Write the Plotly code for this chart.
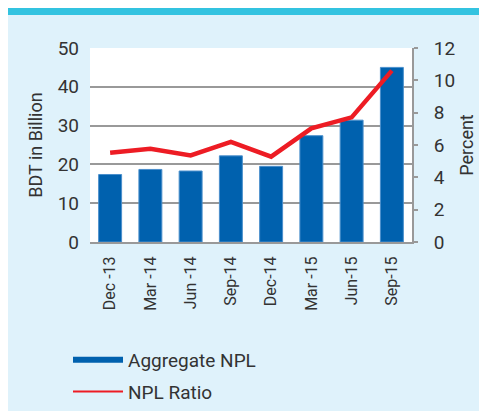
import plotly.graph_objects as go

categories = ["Dec-13", "Mar-14", "Jun-14", "Sep-14", "Dec-14", "Mar-15", "Jun-15", "Sep-15"]
tick_labels = ["Dec -13", "Mar -14", "Jun -14", "Sep-14", "Dec-14", "Mar -15", "Jun-15", "Sep-15"]
aggregate_npl = [17.4, 18.7, 18.3, 22.2, 19.5, 27.4, 31.4, 45.0]
npl_ratio = [5.52, 5.77, 5.36, 6.2, 5.28, 7.03, 7.71, 10.6]

OFF = 8  # page body margin
W, H = 487 - OFF, 411 - OFF
L, R, T, B = 90 - OFF, 487 - 412, 48 - OFF, 411 - 242
pw, ph = W - L - R, H - T - B

def px_x(p):
    return (p - OFF - L) / pw

def px_y(p):
    return (H - B - (p - OFF)) / ph

font = "Roboto, Arial, sans-serif"
txt = "#333333"
bg = "#dff2fb"

fig = go.Figure()
fig.add_trace(go.Bar(
    x=categories, y=aggregate_npl, name="Aggregate NPL",
    marker=dict(color="#0061ae", line=dict(color="#4a8fcc", width=1)),
    showlegend=False,
))
fig.add_trace(go.Scatter(
    x=categories, y=npl_ratio, name="NPL Ratio", yaxis="y2",
    mode="lines", line=dict(color="#ed1c24", width=4.5),
    showlegend=False,
))
# legend-only samples
fig.add_trace(go.Scatter(
    x=[None], y=[None], name="Aggregate NPL", mode="lines", legendgroup="a",
    line=dict(color="#0061ae", width=6),
))
fig.add_trace(go.Scatter(
    x=[None], y=[None], name="NPL Ratio", mode="lines", legendgroup="b",
    line=dict(color="#ed1c24", width=2),
))

fig.update_layout(
    width=W, height=H,
    margin=dict(l=L, r=R, t=T, b=B, pad=0, autoexpand=False),
    paper_bgcolor=bg, plot_bgcolor="white",
    font=dict(family=font, size=19, color=txt),
    bargap=0.43,
    xaxis=dict(
        type="category", categoryorder="array", categoryarray=categories,
        tickvals=categories, ticktext=tick_labels, automargin=False,
        tickangle=-90, tickfont=dict(size=16, color=txt),
        showline=True, linecolor="#999999", linewidth=2,
        ticks="", showgrid=False, ticklabelstandoff=6,
    ),
    yaxis=dict(
        range=[0, 50], dtick=10, showgrid=True, gridcolor="#999999", gridwidth=1.5,
        zeroline=False, showline=False, ticks="", automargin=False,
        ticklabelstandoff=10, tickfont=dict(size=19, color=txt),
        title=dict(text="BDT in Billion", font=dict(size=18, color=txt), standoff=10),
    ),
    yaxis2=dict(
        range=[0, 12], dtick=2, overlaying="y", side="right", automargin=False,
        showgrid=False, zeroline=False,
        showline=True, linecolor="#999999", linewidth=2,
        ticks="outside", ticklen=4, tickcolor="#999999", tickwidth=1.5,
        ticklabelstandoff=12, tickfont=dict(size=19, color=txt),
        title=dict(text="Percent", font=dict(size=18, color=txt), standoff=6),
    ),
    legend=dict(
        x=px_x(68), y=px_y(341), xanchor="left", yanchor="top",
        bgcolor="rgba(0,0,0,0)", font=dict(size=19, color=txt),
        itemwidth=50, tracegroupgap=4,
    ),
    shapes=[
        dict(type="rect", xref="paper", yref="paper",
             x0=px_x(OFF), x1=px_x(490), y0=px_y(OFF + 7), y1=px_y(OFF - 2),
             fillcolor="#33c3e0", line=dict(width=0), layer="below"),
    ],
)

fig.write_html("out.html")
